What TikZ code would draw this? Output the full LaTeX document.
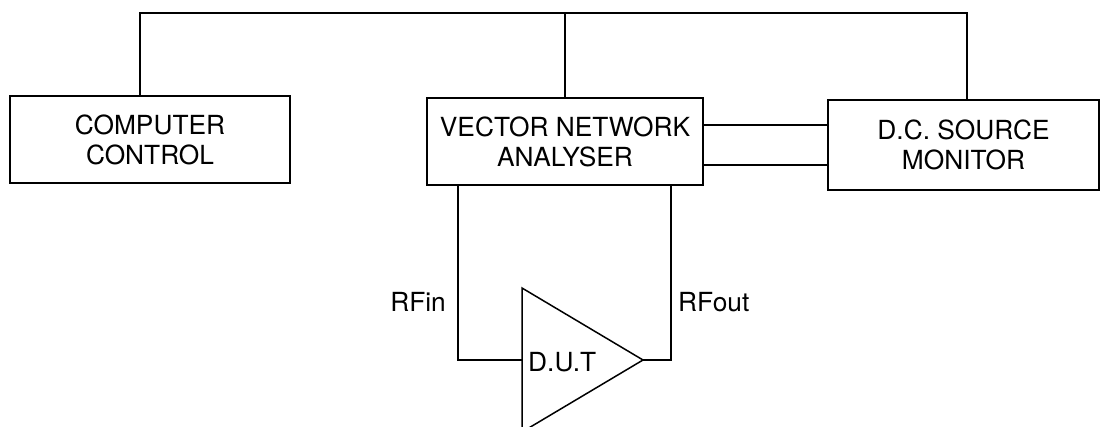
\documentclass[tikz,border=0pt]{standalone}
\usepackage{fontspec}
\setmainfont{TeX Gyre Heros}
\usepackage{tikz}

\begin{document}
\begin{tikzpicture}[
	x=1pt, y=-1pt,
	caixa/.style={draw, rectangle, line width=1.8pt, align=center, inner sep=0pt, font=\fontsize{26.3}{30}\selectfont},
	rot/.style={inner sep=0pt, font=\fontsize{26.3}{30}\selectfont},
	fio/.style={line width=1.5pt}
	]
	\useasboundingbox (0,0) rectangle (1101,427);

	\node[caixa, minimum width=280pt, minimum height=87pt] (cc) at (150,139.5) {COMPUTER\\CONTROL};
	\node[caixa, minimum width=276pt, minimum height=87pt] (vna) at (565,141.5) {VECTOR NETWORK\\ANALYSER};
	\node[caixa, minimum width=271pt, minimum height=90pt] (dc) at (963.5,145) {D.C. SOURCE\\MONITOR};

	\coordinate (busL) at (140,13);
	\coordinate (busR) at (967,13);
	\coordinate (tA) at (522,288);
	\coordinate (tB) at (522,432);
	\coordinate (tip) at (643,360);
	\coordinate (tin) at (522,360);

	\node[rot, anchor=west] (dut) at (528,362) {D.U.T};
	\node[rot, anchor=east] (rfin) at (446,302) {RFin};
	\node[rot, anchor=west] (rfout) at (678,302) {RFout};

	\draw[fio] (cc.north -| busL) -- (busL) -- (busR) -- (busR |- dc.north);
	\draw[fio] (vna.north) -- (vna.north |- busL);
	\draw[fio] ([yshift=16.5pt]vna.east) -- ([yshift=16.5pt]vna.east -| dc.west);
	\draw[fio] ([yshift=-23.5pt]vna.east) -- ([yshift=-23.5pt]vna.east -| dc.west);
	\draw[fio] (tA) -- (tip) -- (tB) -- cycle;
	\draw[fio] ([xshift=-107pt]vna.south) |- (tin);
	\draw[fio] (tip) -| ([xshift=106pt]vna.south);
\end{tikzpicture}
\end{document}
